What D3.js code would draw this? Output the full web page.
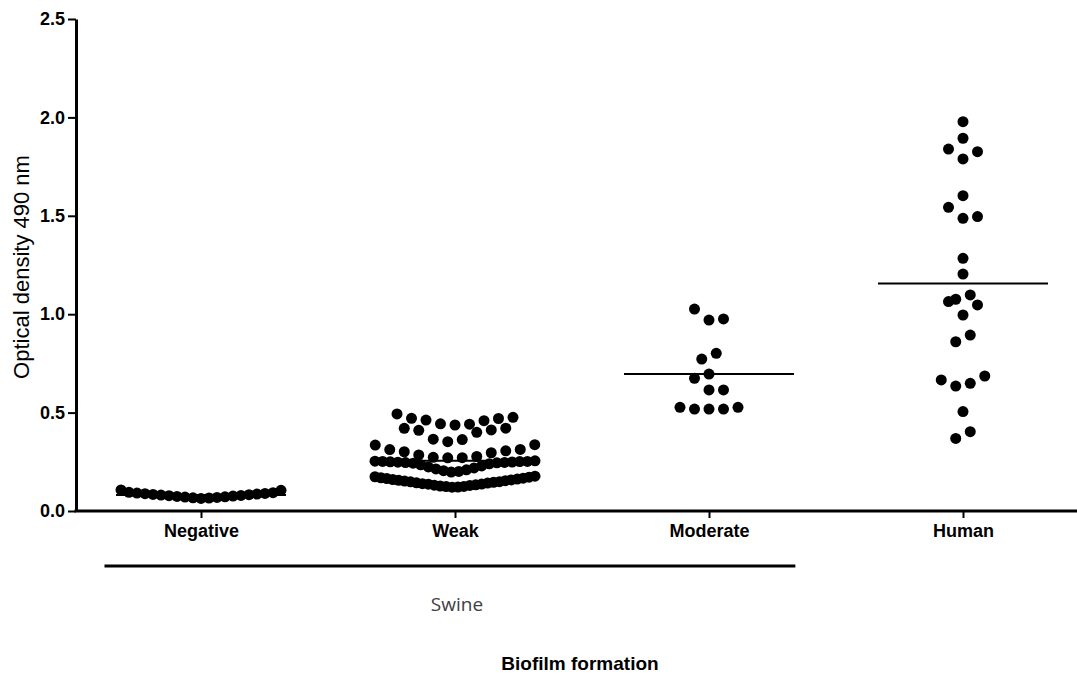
<!DOCTYPE html>
<html>
<head>
<meta charset="utf-8">
<script src="https://cdn.jsdelivr.net/npm/d3@7"></script>
<style>
  body { margin: 0; background: #fff; }
  svg { display: block; }
</style>
</head>
<body>
<svg id="chart" width="1077" height="677"></svg>
<script>
// values (optical density at 490 nm)
const categories = ["Negative", "Weak", "Moderate", "Human"];
const negative = [0.064, 0.066, 0.067, 0.069, 0.071, 0.072, 0.074, 0.076, 0.078, 0.079, 0.081,
  0.083, 0.084, 0.086, 0.088, 0.089, 0.091, 0.093, 0.095, 0.105, 0.107];
const weak = [
  0.493, 0.476, 0.471, 0.470, 0.462, 0.459, 0.443, 0.441, 0.437,
  0.421, 0.420, 0.412, 0.410, 0.400, 0.365, 0.363, 0.352,
  0.337, 0.335, 0.313, 0.312, 0.306, 0.301, 0.296, 0.285, 0.277, 0.273, 0.271, 0.270,
  0.198, 0.201, 0.205, 0.209, 0.214, 0.219, 0.224, 0.229, 0.235, 0.240, 0.243,
  0.245, 0.246, 0.247, 0.248, 0.249, 0.250, 0.251, 0.252, 0.252, 0.253, 0.255,
  0.121, 0.122, 0.124, 0.125, 0.127, 0.130, 0.131, 0.133, 0.136, 0.137, 0.139, 0.142, 0.143, 0.146,
  0.148, 0.149, 0.152, 0.154, 0.156, 0.158, 0.160, 0.162, 0.165, 0.167, 0.169, 0.172, 0.174, 0.177];
const moderate = [1.026, 0.970, 0.976, 0.801, 0.772, 0.696, 0.674, 0.615, 0.615,
  0.527, 0.518, 0.518, 0.518, 0.527];
const human = [1.978, 1.894, 1.839, 1.826, 1.789, 1.602, 1.543, 1.487, 1.496, 1.284, 1.204,
  1.098, 1.064, 1.076, 1.047, 0.996, 0.894, 0.860, 0.666, 0.635, 0.649, 0.686, 0.505, 0.403, 0.369];
const groups = [negative, weak, moderate, human];
const yTicks = [0, 0.5, 1.0, 1.5, 2.0, 2.5];
const swineGroups = ["Negative", "Weak", "Moderate"];

const svg = d3.select("#chart");
const plot = {left: 76, right: 1077, top: 19, bottom: 511};

const x = d3.scalePoint()
  .domain(categories)
  .range([74, 1090])
  .padding(0.5);

const y = d3.scaleLinear()
  .domain([0, 2.5])
  .range([plot.bottom, plot.top]);

const r = 5.5;
const dotStep = 14.5;   // horizontal spacing of dots in a row
const maxSpan = 160;    // rows wider than this get squeezed
const binH = 0.07;      // row height, in data units
const meanHalf = 85;

// Prism-like scatter layout: bin into rows, lowest value in the middle
function swarm(values, cx) {
  const sorted = values.slice().sort((a, b) => a - b);
  const rows = [];
  let row = null;
  sorted.forEach(v => {
    if (!row || v >= row[0] + binH) {
      row = [];
      rows.push(row);
    }
    row.push(v);
  });
  const pts = [];
  rows.forEach(rw => {
    const n = rw.length;
    const step = n > 1 ? Math.min(dotStep, maxSpan / (n - 1)) : 0;
    rw.forEach((v, i) => {
      let slot;
      if (n % 2 === 1) {
        slot = i === 0 ? 0 : (i % 2 === 1 ? (i + 1) / 2 : -i / 2);
      } else {
        const k = Math.floor(i / 2) + 0.5;
        slot = i % 2 === 0 ? -k : k;
      }
      pts.push({v: v, x: cx + slot * step});
    });
  });
  return pts;
}

const labelFont = "'Liberation Sans', Arial, sans-serif";

// y axis
const yAxis = svg.append("g")
  .attr("transform", "translate(" + plot.left + ",0)")
  .call(d3.axisLeft(y).tickValues(yTicks).tickFormat(d3.format(".1f")).tickSize(8).tickSizeOuter(0).tickPadding(3));
yAxis.select(".domain").attr("stroke", "#000").attr("stroke-width", 3);
yAxis.selectAll(".tick line").attr("stroke", "#000").attr("stroke-width", 2);
yAxis.selectAll(".tick text")
  .attr("fill", "#000")
  .style("font-family", labelFont)
  .style("font-weight", "bold")
  .style("font-size", "18px");

// x axis: ticks and labels from the point scale, baseline drawn to the edge
const xAxis = svg.append("g")
  .attr("transform", "translate(0," + plot.bottom + ")")
  .call(d3.axisBottom(x).tickSize(7).tickPadding(6));
xAxis.select(".domain").remove();
xAxis.selectAll(".tick line").attr("stroke", "#000").attr("stroke-width", 2);
xAxis.selectAll(".tick text")
  .attr("fill", "#000")
  .style("font-family", labelFont)
  .style("font-weight", "bold")
  .style("font-size", "18px");
svg.append("line")
  .attr("x1", plot.left - 1.5).attr("x2", plot.right)
  .attr("y1", plot.bottom).attr("y2", plot.bottom)
  .attr("stroke", "#000").attr("stroke-width", 3);

// dots
groups.forEach((vals, gi) => {
  const pts = swarm(vals, x(categories[gi]));
  svg.append("g").selectAll("circle")
    .data(pts)
    .enter()
    .append("circle")
    .attr("cx", d => d.x)
    .attr("cy", d => y(d.v))
    .attr("r", r)
    .attr("fill", "#000");
});

// mean lines
svg.append("g").selectAll("line")
  .data(groups)
  .enter()
  .append("line")
  .attr("x1", (d, i) => x(categories[i]) - meanHalf)
  .attr("x2", (d, i) => x(categories[i]) + meanHalf)
  .attr("y1", d => y(d3.mean(d)))
  .attr("y2", d => y(d3.mean(d)))
  .attr("stroke", "#000")
  .attr("stroke-width", 2);

// swine bracket
const step = x.step();
svg.append("line")
  .attr("x1", x(swineGroups[0]) - step * 0.38)
  .attr("x2", x(swineGroups[swineGroups.length - 1]) + step * 0.34)
  .attr("y1", 566).attr("y2", 566)
  .attr("stroke", "#000").attr("stroke-width", 3);
svg.append("text")
  .attr("x", x("Weak") + 2)
  .attr("y", 611)
  .attr("text-anchor", "middle")
  .attr("fill", "#404040")
  .style("font-family", "'Open Sans', sans-serif")
  .style("font-size", "19px")
  .text("Swine");

// axis titles
svg.append("text")
  .attr("x", 580)
  .attr("y", 670)
  .attr("text-anchor", "middle")
  .style("font-family", labelFont)
  .style("font-weight", "bold")
  .style("font-size", "19px")
  .text("Biofilm formation");

svg.append("text")
  .attr("transform", "translate(29," + ((plot.top + plot.bottom) / 2 + 2) + ") rotate(-90)")
  .attr("text-anchor", "middle")
  .style("font-family", labelFont)
  .style("font-size", "22px")
  .text("Optical density 490 nm");
</script>
</body>
</html>
